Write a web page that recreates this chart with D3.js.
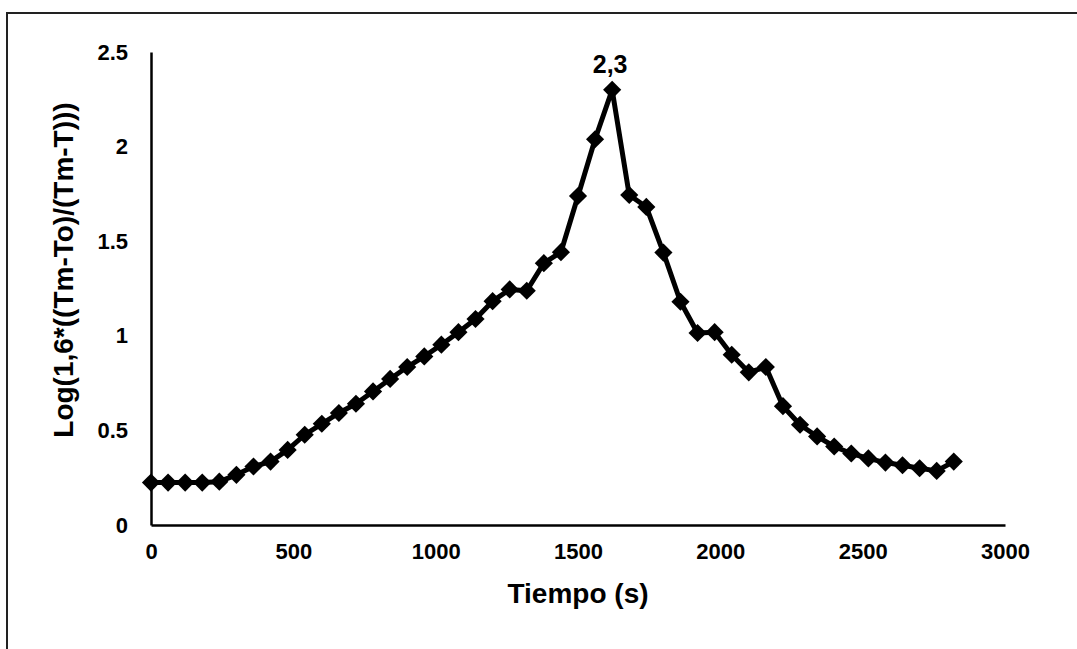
<!DOCTYPE html>
<html>
<head>
<meta charset="utf-8">
<script src="https://cdn.jsdelivr.net/npm/d3@7"></script>
<style>
  html, body { margin: 0; padding: 0; background: #fff; }
  svg { display: block; }
  text { font-family: "Liberation Sans", Arial, sans-serif; font-weight: bold; fill: #000; }
</style>
</head>
<body>
<svg id="chart" width="1077" height="649"></svg>
<script>
// Time (s) of each reading
const tiempo = [0, 60, 120, 180, 240, 300, 360, 420, 480, 540, 600, 660, 720, 780, 840, 900,
  960, 1020, 1080, 1140, 1200, 1260, 1320, 1380, 1440, 1500, 1560, 1620, 1680, 1740, 1800,
  1860, 1920, 1980, 2040, 2100, 2160, 2220, 2280, 2340, 2400, 2460, 2520, 2580, 2640, 2700,
  2760, 2820];

// Log(1,6*((Tm-To)/(Tm-T))) for each reading
const logValues = [0.224, 0.224, 0.224, 0.224, 0.229, 0.265, 0.309, 0.335, 0.397, 0.477,
  0.535, 0.592, 0.641, 0.706, 0.772, 0.835, 0.891, 0.953, 1.019, 1.089, 1.183, 1.245,
  1.238, 1.384, 1.442, 1.739, 2.039, 2.3, 1.744, 1.681, 1.44, 1.18, 1.015, 1.019, 0.9,
  0.807, 0.835, 0.628, 0.53, 0.468, 0.415, 0.378, 0.352, 0.33, 0.316, 0.30, 0.286, 0.335];

const xTicks = [0, 500, 1000, 1500, 2000, 2500, 3000];
const yTicks = [0, 0.5, 1, 1.5, 2, 2.5];

const xTitle = "Tiempo (s)";
const yTitle = "Log(1,6*((Tm-To)/(Tm-T)))";

const points = tiempo.map((t, i) => ({ t, v: logValues[i] }));

const svg = d3.select("#chart");

// Outer frame (left and top edges)
svg.append("path")
  .attr("d", "M7,649 L7,13 L1077,13")
  .attr("fill", "none")
  .attr("stroke", "#222")
  .attr("stroke-width", 2);

const plot = { left: 151, right: 1005, top: 52, bottom: 525 };

const x = d3.scaleLinear().domain([0, 3000]).range([plot.left, plot.right]);
const y = d3.scaleLinear().domain([0, 2.5]).range([plot.bottom, plot.top]);

// X axis
const xAxis = svg.append("g")
  .attr("transform", `translate(0,${plot.bottom})`)
  .call(d3.axisBottom(x).tickValues(xTicks).tickSize(0).tickPadding(18)
    .tickFormat(d3.format("d")));
xAxis.select(".domain").attr("stroke", "#000").attr("stroke-width", 2.5);
xAxis.selectAll("text").style("font-size", "22px").attr("dy", "0.71em");

// Y axis
const yAxis = svg.append("g")
  .attr("transform", `translate(${plot.left},0)`)
  .call(d3.axisLeft(y).tickValues(yTicks).tickSize(0).tickPadding(23)
    .tickFormat(d => String(d)));
yAxis.select(".domain").attr("stroke", "#000").attr("stroke-width", 2.5);
yAxis.selectAll("text").style("font-size", "22px");

// Axis titles
svg.append("text")
  .attr("x", (plot.left + plot.right) / 2)
  .attr("y", 603)
  .attr("text-anchor", "middle")
  .style("font-size", "28px")
  .text(xTitle);

svg.append("text")
  .attr("transform", "translate(73,270) rotate(-90)")
  .attr("text-anchor", "middle")
  .style("font-size", "28px")
  .text(yTitle);

// Series line
const line = d3.line().x(d => x(d.t)).y(d => y(d.v));
svg.append("path")
  .datum(points)
  .attr("d", line)
  .attr("fill", "none")
  .attr("stroke", "#000")
  .attr("stroke-width", 5)
  .attr("stroke-linejoin", "round");

// Diamond markers
const diamond = d3.symbol().type(d3.symbolSquare).size(165);
svg.append("g")
  .selectAll("path")
  .data(points)
  .join("path")
  .attr("d", diamond)
  .attr("transform", d => `translate(${x(d.t)},${y(d.v)}) rotate(45)`)
  .attr("fill", "#000");

// Label on the maximum
const peak = points.reduce((a, b) => (b.v > a.v ? b : a));
svg.append("text")
  .attr("x", x(peak.t) - 2)
  .attr("y", y(peak.v) - 17)
  .attr("text-anchor", "middle")
  .style("font-size", "25px")
  .text(d3.format(".1f")(peak.v).replace(".", ","));
</script>
</body>
</html>
